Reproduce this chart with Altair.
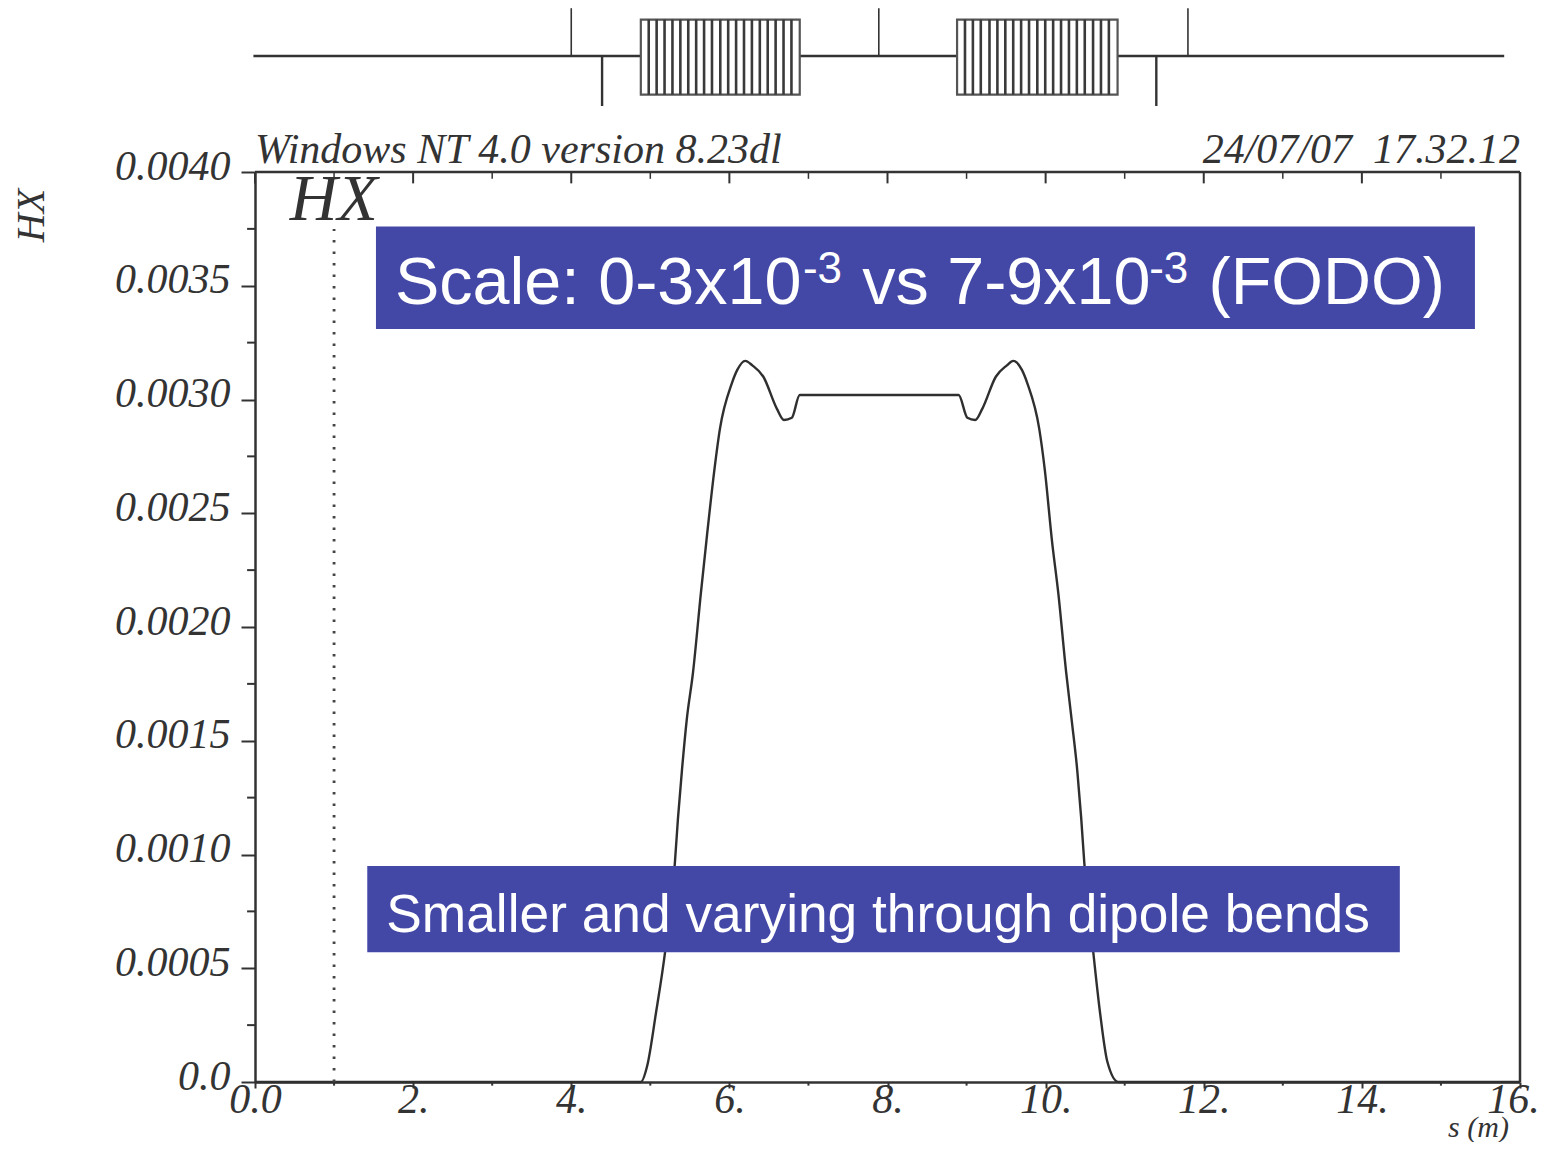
import altair as alt
import pandas as pd

# curve
s_vals = [0.0, 4.88, 4.96, 5.07, 5.19, 5.31, 5.35, 5.40, 5.46, 5.54, 5.64, 5.71, 5.81, 5.88, 6.03, 6.10, 6.20, 6.29, 6.43, 6.60, 6.69, 6.79, 6.89,
          8.90, 9.01, 9.11, 9.20, 9.37, 9.51, 9.59, 9.70, 9.77, 9.92, 9.99, 10.08, 10.16, 10.26, 10.33, 10.40, 10.45, 10.49, 10.60, 10.69, 10.78, 10.92, 16.0]
hx_vals = [0.0, 0.0, 0.00007, 0.00030, 0.00058, 0.00096, 0.00116, 0.00137, 0.00159, 0.00180, 0.00215, 0.00238, 0.00269, 0.00287, 0.00307, 0.00313, 0.00317, 0.00315, 0.00310, 0.00296, 0.00291, 0.00292, 0.00302,
           0.00302, 0.00292, 0.00291, 0.00296, 0.00310, 0.00315, 0.00317, 0.00313, 0.00307, 0.00287, 0.00269, 0.00238, 0.00215, 0.00180, 0.00159, 0.00137, 0.00116, 0.00096, 0.00058, 0.00030, 0.00009, 0.0, 0.0]

# ticks
y_major = [0.0, 0.0005, 0.001, 0.0015, 0.002, 0.0025, 0.003, 0.0035, 0.004]
y_minor = [0.00025, 0.00075, 0.00125, 0.00175, 0.00225, 0.00275, 0.00325, 0.00375]
x_major = [0, 2, 4, 6, 8, 10, 12, 14, 16]
x_minor = [1, 3, 5, 7, 9, 11, 13, 15]

# lattice
line_y = 0.00451
up_s = [4.0, 7.89, 11.8]
up_top = 0.00472
down_s = [4.39, 11.4]
down_bot = 0.00429
bend_s = [4.88, 8.88]
bend_s2 = [6.89, 10.91]
bend_top = 0.00467
bend_bot = 0.00434
stripes_a = [4.98, 5.08, 5.18, 5.28, 5.38, 5.48, 5.58, 5.68, 5.78, 5.885, 5.985, 6.085, 6.185, 6.285, 6.385, 6.485, 6.585, 6.685, 6.785]
stripes_b = [8.98, 9.08, 9.18, 9.29, 9.39, 9.49, 9.59, 9.69, 9.79, 9.895, 9.995, 10.095, 10.195, 10.295, 10.395, 10.495, 10.6, 10.7, 10.8]

# annotations
box_s = [1.53, 1.42]
box_s2 = [15.43, 14.48]
box_y = [0.00376, 0.00095]
box_y2 = [0.00331, 0.00057]
ann_text = ["Scale: 0-3x10", "-3", "vs 7-9x10", "-3", "(FODO)", "Smaller and varying through dipole bends"]
ann_s = [1.77, 6.93, 7.68, 11.31, 12.06, 1.66]
ann_y = [0.00342, 0.00351, 0.00342, 0.00351, 0.00342, 0.00066]
ann_size = [66.5, 44, 66.5, 44, 66.5, 53.3]

INK = "#333333"
SERIF = "Liberation Serif"
BLUE = "#4348A7"

xs = alt.Scale(domain=[0, 16], nice=False, zero=False)
ys = alt.Scale(domain=[0, 0.004], nice=False, zero=False)

x_axis = alt.Axis(values=x_major, title="s (m)", titleFont=SERIF, titleFontStyle="italic", titleFontWeight="normal",
                  titleFontSize=30, titleColor=INK, titleX=1223, titleY=54, titleAlign="center", titleBaseline="alphabetic",
                  labelFont=SERIF, labelFontStyle="italic", labelFontSize=42, labelColor=INK, labelPadding=-9,
                  labelOverlap=False, labelFlush=False,
                  labelExpr="datum.value === 0 ? '0.0' : datum.value === 16 ? '' : datum.value + '.'",
                  grid=False, tickSize=6, tickWidth=2, tickColor=INK, domainColor=INK, domainWidth=2.5)
y_axis = alt.Axis(values=y_major, title="HX", titleFont=SERIF, titleFontStyle="italic", titleFontWeight="normal",
                  titleFontSize=40, titleColor=INK, titleX=-204, titleY=43, titleAlign="center", titleAngle=270,
                  labelFont=SERIF, labelFontStyle="italic", labelFontSize=42, labelColor=INK, labelPadding=11,
                  labelOffset=-6, labelOverlap=False, labelFlush=False,
                  labelExpr="datum.value === 0 ? '0.0' : format(datum.value, '.4f')",
                  grid=False, tickSize=14, tickWidth=2, tickColor=INK, domainColor=INK, domainWidth=2.5)

X = lambda f: alt.X(f, type="quantitative", scale=xs, axis=x_axis)
Y = lambda f: alt.Y(f, type="quantitative", scale=ys, axis=y_axis)

curve = pd.DataFrame({"s": s_vals, "hx": hx_vals})
base = alt.Chart(curve).mark_line(color="#2f2f2f", strokeWidth=2.4, interpolate="monotone").encode(X("s"), Y("hx"))


def rules(rows, color=INK, width=2, **kw):
    return alt.Chart(pd.DataFrame(rows, columns=["a", "a2", "b", "b2"])).mark_rule(
        color=color, strokeWidth=width, **kw).encode(X("a"), alt.X2("a2"), Y("b"), alt.Y2("b2"))


frame = rules([[16, 16, 0, 0.004], [0, 16, 0.004, 0.004]], width=2.5)
left_minor = rules([[-0.1, 0, v, v] for v in y_minor])
top_major = rules([[v, v, 0.004, 0.00395] for v in x_major])
top_minor = rules([[v, v, 0.004, 0.00397] for v in x_minor], width=1.5)
bot_minor = rules([[v, v, 0, -0.000016] for v in x_minor])
dotted = rules([[1, 1, 0, 0.00375]], color="#444444", width=2.8, strokeDash=[2.5, 9])

beam = rules([[-0.02, 15.8, line_y, line_y]], width=2.5)
ups = rules([[v, v, line_y, up_top] for v in up_s], width=1.6)
downs = rules([[v, v, line_y, down_bot] for v in down_s], width=2.4)
bends = alt.Chart(pd.DataFrame({"a": bend_s, "a2": bend_s2, "b": [bend_top] * 2, "b2": [bend_bot] * 2})).mark_rect(
    fill="white", stroke="#555555", strokeWidth=2.2).encode(X("a"), alt.X2("a2"), Y("b"), alt.Y2("b2"))
stripes = rules([[v, v, bend_bot, bend_top] for v in stripes_a + stripes_b], color="#3a3a3a", width=2.6)


def serif_text(text, s, y, size, align="left"):
    return alt.Chart(pd.DataFrame({"t": [text], "a": [s], "b": [y]})).mark_text(
        font=SERIF, fontStyle="italic", fontSize=size, align=align, baseline="alphabetic", color=INK).encode(
        X("a"), Y("b"), text="t:N")


head_l = serif_text("Windows NT 4.0 version 8.23dl", 0.0, 0.00404, 42)
head_r = serif_text("24/07/07\u00a0\u00a017.32.12", 16.0, 0.00404, 42, "right")
hx_in = serif_text("HX", 0.44, 0.00379, 66)
last_label = serif_text("16.", 16.25, -0.000136, 42, "right")

boxes = alt.Chart(pd.DataFrame({"a": box_s, "a2": box_s2, "b": box_y, "b2": box_y2})).mark_rect(color=BLUE, opacity=1).encode(
    X("a"), alt.X2("a2"), Y("b"), alt.Y2("b2"))
ann = alt.Chart(pd.DataFrame({"t": ann_text, "a": ann_s, "b": ann_y, "z": ann_size})).mark_text(
    font="Liberation Sans", align="left", baseline="alphabetic", color="white").encode(
    X("a"), Y("b"), text="t:N", size=alt.Size("z:Q", scale=None, legend=None))

chart = alt.layer(
    base, frame, left_minor, top_major, top_minor, bot_minor, dotted,
    beam, ups, downs, bends, stripes, head_l, head_r, hx_in, last_label, boxes, ann
).properties(
    width=1265, height=910,
    autosize=alt.AutoSizeParams(type="none"),
    padding={"left": 247, "top": 164, "right": 21, "bottom": 60},
    background="white",
).configure_view(stroke=None)

chart.save("out.html", embed_options={"renderer": "svg", "actions": False})
